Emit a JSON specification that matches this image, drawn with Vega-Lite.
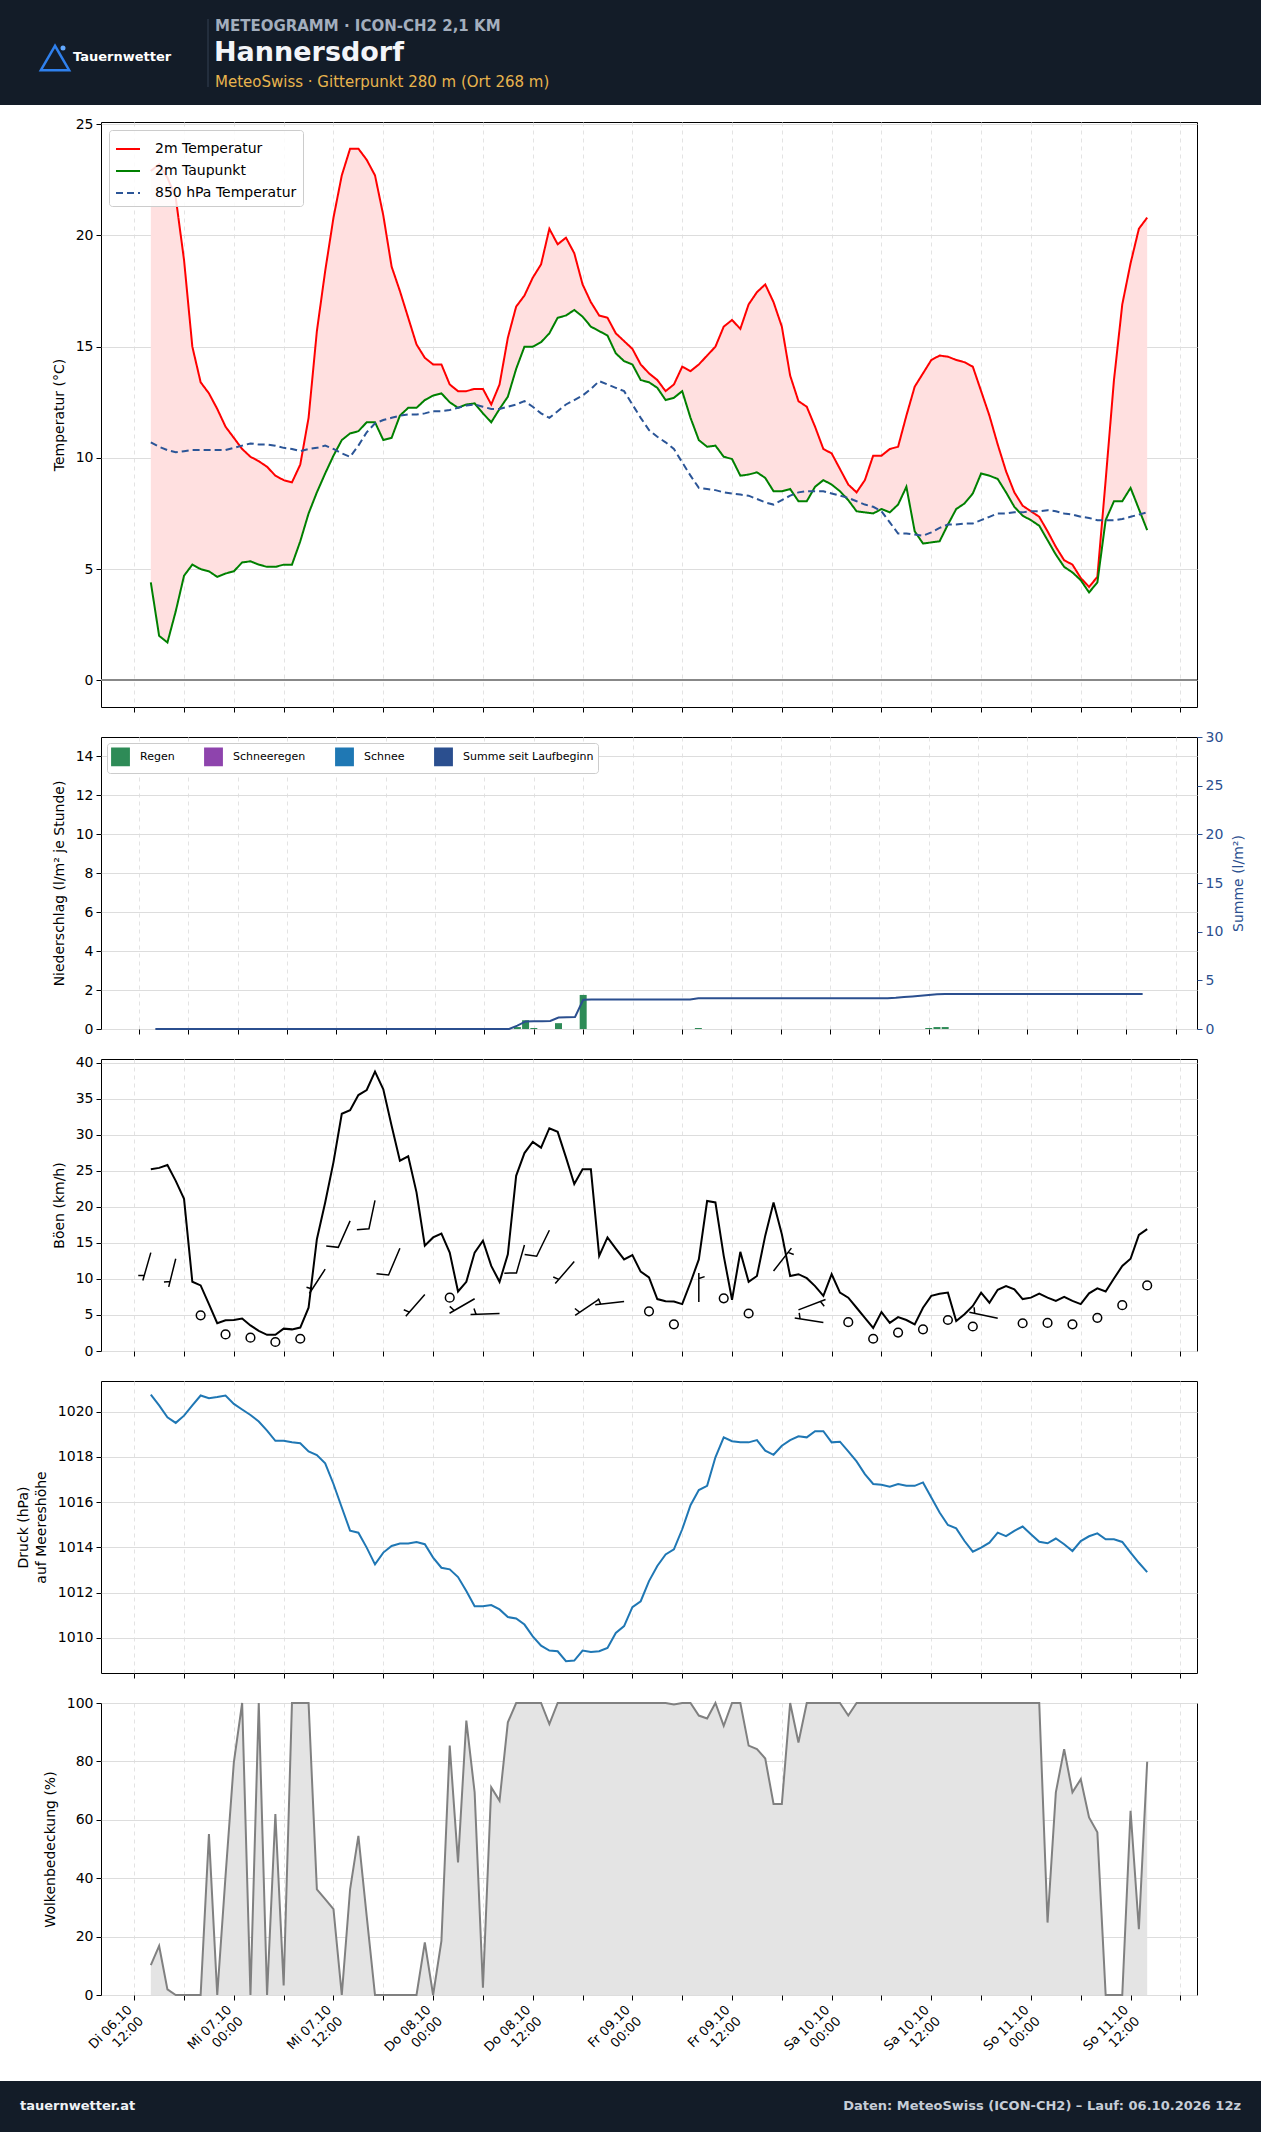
{
"$schema": "https://vega.github.io/schema/vega-lite/v6.json",
"padding": 0,
"background": "white",
"autosize": {"type": "pad"},
"config": {
  "font": "DejaVu Sans",
  "view": {"stroke": "black", "strokeWidth": 1},
  "axis": {"domain": false, "labelFont": "DejaVu Sans", "titleFont": "DejaVu Sans", "labelFontSize": 14, "titleFontSize": 14, "titleFontWeight": "normal", "labelColor": "black", "titleColor": "black", "tickColor": "black", "tickSize": 5, "labelPadding": 3, "gridColor": "#dddddd", "gridWidth": 1},
  "axisX": {"gridDash": [4, 4], "gridColor": "#e3e3e3", "labelFlush": false, "labelOverlap": false},
  "axisY": {"titlePadding": 9, "labelOverlap": false},
  "legend": {"labelFont": "DejaVu Sans"}
},
"resolve": {"scale": {"color": "independent", "strokeDash": "independent"}},
"datasets": {
"h": [
{"time":"2026-10-06T14:00","temp":22.9,"dew":4.4,"t850":10.7,"rain":0,"sum":0,"gust":25.2,"p":1020.75,"cloud":10.2},
{"time":"2026-10-06T15:00","temp":23.2,"dew":2.0,"t850":10.5,"rain":0,"sum":0,"gust":25.4,"p":1020.27,"cloud":16.8},
{"time":"2026-10-06T16:00","temp":22.6,"dew":1.7,"t850":10.35,"rain":0,"sum":0,"gust":25.8,"p":1019.75,"cloud":1.9},
{"time":"2026-10-06T17:00","temp":21.7,"dew":3.1,"t850":10.25,"rain":0,"sum":0,"gust":23.6,"p":1019.5,"cloud":0},
{"time":"2026-10-06T18:00","temp":18.9,"dew":4.7,"t850":10.3,"rain":0,"sum":0,"gust":21.1,"p":1019.82,"cloud":0},
{"time":"2026-10-06T19:00","temp":15.0,"dew":5.2,"t850":10.35,"rain":0,"sum":0,"gust":9.6,"p":1020.27,"cloud":0},
{"time":"2026-10-06T20:00","temp":13.4,"dew":5.0,"t850":10.35,"rain":0,"sum":0,"gust":9.1,"p":1020.71,"cloud":0},
{"time":"2026-10-06T21:00","temp":12.9,"dew":4.9,"t850":10.35,"rain":0,"sum":0,"gust":6.5,"p":1020.59,"cloud":55.1},
{"time":"2026-10-06T22:00","temp":12.2,"dew":4.65,"t850":10.35,"rain":0,"sum":0,"gust":3.85,"p":1020.64,"cloud":0},
{"time":"2026-10-06T23:00","temp":11.4,"dew":4.8,"t850":10.35,"rain":0,"sum":0,"gust":4.25,"p":1020.71,"cloud":40.8},
{"time":"2026-10-07T00:00","temp":10.9,"dew":4.9,"t850":10.45,"rain":0,"sum":0,"gust":4.3,"p":1020.34,"cloud":79.7},
{"time":"2026-10-07T01:00","temp":10.4,"dew":5.3,"t850":10.55,"rain":0,"sum":0,"gust":4.5,"p":1020.09,"cloud":100},
{"time":"2026-10-07T02:00","temp":10.05,"dew":5.35,"t850":10.65,"rain":0,"sum":0,"gust":3.55,"p":1019.85,"cloud":0},
{"time":"2026-10-07T03:00","temp":9.85,"dew":5.2,"t850":10.6,"rain":0,"sum":0,"gust":2.8,"p":1019.56,"cloud":100},
{"time":"2026-10-07T04:00","temp":9.6,"dew":5.1,"t850":10.6,"rain":0,"sum":0,"gust":2.25,"p":1019.16,"cloud":0},
{"time":"2026-10-07T05:00","temp":9.2,"dew":5.1,"t850":10.55,"rain":0,"sum":0,"gust":2.25,"p":1018.71,"cloud":62},
{"time":"2026-10-07T06:00","temp":9.0,"dew":5.2,"t850":10.45,"rain":0,"sum":0,"gust":3.1,"p":1018.71,"cloud":3.3},
{"time":"2026-10-07T07:00","temp":8.9,"dew":5.2,"t850":10.4,"rain":0,"sum":0,"gust":3.0,"p":1018.64,"cloud":100},
{"time":"2026-10-07T08:00","temp":9.7,"dew":6.25,"t850":10.3,"rain":0,"sum":0,"gust":3.25,"p":1018.6,"cloud":100},
{"time":"2026-10-07T09:00","temp":11.8,"dew":7.5,"t850":10.4,"rain":0,"sum":0,"gust":6.0,"p":1018.24,"cloud":100},
{"time":"2026-10-07T10:00","temp":15.7,"dew":8.45,"t850":10.45,"rain":0,"sum":0,"gust":15.5,"p":1018.08,"cloud":36.2},
{"time":"2026-10-07T11:00","temp":18.4,"dew":9.3,"t850":10.55,"rain":0,"sum":0,"gust":20.6,"p":1017.71,"cloud":32.8},
{"time":"2026-10-07T12:00","temp":20.8,"dew":10.1,"t850":10.4,"rain":0,"sum":0,"gust":26.2,"p":1016.8,"cloud":29.4},
{"time":"2026-10-07T13:00","temp":22.7,"dew":10.8,"t850":10.2,"rain":0,"sum":0,"gust":32.9,"p":1015.76,"cloud":0},
{"time":"2026-10-07T14:00","temp":23.9,"dew":11.1,"t850":10.05,"rain":0,"sum":0,"gust":33.4,"p":1014.74,"cloud":36.2},
{"time":"2026-10-07T15:00","temp":23.9,"dew":11.2,"t850":10.55,"rain":0,"sum":0,"gust":35.5,"p":1014.65,"cloud":54.5},
{"time":"2026-10-07T16:00","temp":23.4,"dew":11.6,"t850":11.15,"rain":0,"sum":0,"gust":36.2,"p":1013.99,"cloud":27},
{"time":"2026-10-07T17:00","temp":22.7,"dew":11.6,"t850":11.55,"rain":0,"sum":0,"gust":38.75,"p":1013.25,"cloud":0},
{"time":"2026-10-07T18:00","temp":20.9,"dew":10.8,"t850":11.7,"rain":0,"sum":0,"gust":36.3,"p":1013.77,"cloud":0},
{"time":"2026-10-07T19:00","temp":18.6,"dew":10.9,"t850":11.8,"rain":0,"sum":0,"gust":31.25,"p":1014.06,"cloud":0},
{"time":"2026-10-07T20:00","temp":17.5,"dew":11.9,"t850":11.9,"rain":0,"sum":0,"gust":26.4,"p":1014.17,"cloud":0},
{"time":"2026-10-07T21:00","temp":16.3,"dew":12.25,"t850":11.95,"rain":0,"sum":0,"gust":27.0,"p":1014.17,"cloud":0},
{"time":"2026-10-07T22:00","temp":15.1,"dew":12.25,"t850":11.95,"rain":0,"sum":0,"gust":22.0,"p":1014.24,"cloud":0},
{"time":"2026-10-07T23:00","temp":14.5,"dew":12.6,"t850":12.0,"rain":0,"sum":0,"gust":14.6,"p":1014.14,"cloud":18},
{"time":"2026-10-08T00:00","temp":14.2,"dew":12.8,"t850":12.1,"rain":0,"sum":0,"gust":15.75,"p":1013.55,"cloud":0},
{"time":"2026-10-08T01:00","temp":14.2,"dew":12.9,"t850":12.1,"rain":0,"sum":0,"gust":16.3,"p":1013.1,"cloud":18.5},
{"time":"2026-10-08T02:00","temp":13.3,"dew":12.5,"t850":12.15,"rain":0,"sum":0,"gust":13.65,"p":1013.03,"cloud":85.4},
{"time":"2026-10-08T03:00","temp":13.0,"dew":12.25,"t850":12.25,"rain":0,"sum":0,"gust":8.25,"p":1012.69,"cloud":45.4},
{"time":"2026-10-08T04:00","temp":13.0,"dew":12.4,"t850":12.35,"rain":0,"sum":0,"gust":9.6,"p":1012.07,"cloud":94},
{"time":"2026-10-08T05:00","temp":13.1,"dew":12.45,"t850":12.4,"rain":0,"sum":0,"gust":13.65,"p":1011.4,"cloud":69.4},
{"time":"2026-10-08T06:00","temp":13.1,"dew":12.0,"t850":12.3,"rain":0,"sum":0,"gust":15.3,"p":1011.4,"cloud":2.5},
{"time":"2026-10-08T07:00","temp":12.4,"dew":11.6,"t850":12.2,"rain":0,"sum":0,"gust":11.8,"p":1011.45,"cloud":71.1},
{"time":"2026-10-08T08:00","temp":13.3,"dew":12.2,"t850":12.2,"rain":0,"sum":0,"gust":9.6,"p":1011.26,"cloud":66.5},
{"time":"2026-10-08T09:00","temp":15.4,"dew":12.75,"t850":12.3,"rain":0,"sum":0,"gust":13.4,"p":1010.92,"cloud":93.4},
{"time":"2026-10-08T10:00","temp":16.8,"dew":14.0,"t850":12.4,"rain":0.1,"sum":0.35,"gust":24.3,"p":1010.86,"cloud":100},
{"time":"2026-10-08T11:00","temp":17.3,"dew":15.0,"t850":12.55,"rain":0.45,"sum":0.78,"gust":27.45,"p":1010.59,"cloud":100},
{"time":"2026-10-08T12:00","temp":18.1,"dew":15.0,"t850":12.3,"rain":0.05,"sum":0.8,"gust":29.0,"p":1010.07,"cloud":100},
{"time":"2026-10-08T13:00","temp":18.7,"dew":15.2,"t850":12.0,"rain":0,"sum":0.8,"gust":28.2,"p":1009.66,"cloud":100},
{"time":"2026-10-08T14:00","temp":20.3,"dew":15.6,"t850":11.8,"rain":0,"sum":0.82,"gust":30.9,"p":1009.44,"cloud":92.8},
{"time":"2026-10-08T15:00","temp":19.6,"dew":16.3,"t850":12.1,"rain":0.3,"sum":1.17,"gust":30.4,"p":1009.41,"cloud":100},
{"time":"2026-10-08T16:00","temp":19.9,"dew":16.4,"t850":12.4,"rain":0,"sum":1.2,"gust":26.85,"p":1008.97,"cloud":100},
{"time":"2026-10-08T17:00","temp":19.2,"dew":16.65,"t850":12.6,"rain":0,"sum":1.22,"gust":23.15,"p":1009.0,"cloud":100},
{"time":"2026-10-08T18:00","temp":17.8,"dew":16.35,"t850":12.8,"rain":1.75,"sum":3.0,"gust":25.2,"p":1009.44,"cloud":100},
{"time":"2026-10-08T19:00","temp":17.0,"dew":15.9,"t850":13.1,"rain":0,"sum":3.02,"gust":25.2,"p":1009.38,"cloud":100},
{"time":"2026-10-08T20:00","temp":16.4,"dew":15.7,"t850":13.45,"rain":0,"sum":3.02,"gust":13.2,"p":1009.41,"cloud":100},
{"time":"2026-10-08T21:00","temp":16.3,"dew":15.5,"t850":13.3,"rain":0,"sum":3.02,"gust":15.75,"p":1009.56,"cloud":100},
{"time":"2026-10-08T22:00","temp":15.6,"dew":14.7,"t850":13.15,"rain":0,"sum":3.02,"gust":14.2,"p":1010.22,"cloud":100},
{"time":"2026-10-08T23:00","temp":15.25,"dew":14.35,"t850":13.0,"rain":0,"sum":3.02,"gust":12.7,"p":1010.52,"cloud":100},
{"time":"2026-10-09T00:00","temp":14.9,"dew":14.2,"t850":12.4,"rain":0,"sum":3.02,"gust":13.3,"p":1011.36,"cloud":100},
{"time":"2026-10-09T01:00","temp":14.2,"dew":13.5,"t850":11.8,"rain":0,"sum":3.02,"gust":11.0,"p":1011.62,"cloud":100},
{"time":"2026-10-09T02:00","temp":13.8,"dew":13.4,"t850":11.25,"rain":0,"sum":3.02,"gust":10.2,"p":1012.51,"cloud":100},
{"time":"2026-10-09T03:00","temp":13.5,"dew":13.15,"t850":10.95,"rain":0,"sum":3.02,"gust":7.2,"p":1013.18,"cloud":100},
{"time":"2026-10-09T04:00","temp":13.0,"dew":12.6,"t850":10.7,"rain":0,"sum":3.02,"gust":6.9,"p":1013.69,"cloud":100},
{"time":"2026-10-09T05:00","temp":13.3,"dew":12.7,"t850":10.4,"rain":0,"sum":3.02,"gust":6.85,"p":1013.91,"cloud":99.5},
{"time":"2026-10-09T06:00","temp":14.1,"dew":13.0,"t850":9.8,"rain":0,"sum":3.02,"gust":6.5,"p":1014.8,"cloud":100},
{"time":"2026-10-09T07:00","temp":13.9,"dew":11.8,"t850":9.2,"rain":0,"sum":3.02,"gust":9.5,"p":1015.86,"cloud":100},
{"time":"2026-10-09T08:00","temp":14.2,"dew":10.8,"t850":8.65,"rain":0.05,"sum":3.16,"gust":12.7,"p":1016.53,"cloud":95.7},
{"time":"2026-10-09T09:00","temp":14.6,"dew":10.5,"t850":8.6,"rain":0,"sum":3.16,"gust":20.8,"p":1016.72,"cloud":94.7},
{"time":"2026-10-09T10:00","temp":15.0,"dew":10.55,"t850":8.55,"rain":0,"sum":3.16,"gust":20.6,"p":1017.98,"cloud":100},
{"time":"2026-10-09T11:00","temp":15.9,"dew":10.05,"t850":8.45,"rain":0,"sum":3.16,"gust":13.2,"p":1018.86,"cloud":92.2},
{"time":"2026-10-09T12:00","temp":16.2,"dew":9.95,"t850":8.4,"rain":0,"sum":3.16,"gust":7.1,"p":1018.69,"cloud":100},
{"time":"2026-10-09T13:00","temp":15.8,"dew":9.2,"t850":8.35,"rain":0,"sum":3.16,"gust":13.75,"p":1018.64,"cloud":100},
{"time":"2026-10-09T14:00","temp":16.9,"dew":9.25,"t850":8.3,"rain":0,"sum":3.16,"gust":9.6,"p":1018.64,"cloud":85.4},
{"time":"2026-10-09T15:00","temp":17.45,"dew":9.35,"t850":8.15,"rain":0,"sum":3.16,"gust":10.4,"p":1018.74,"cloud":84.2},
{"time":"2026-10-09T16:00","temp":17.8,"dew":9.1,"t850":8.0,"rain":0,"sum":3.16,"gust":16.0,"p":1018.27,"cloud":81},
{"time":"2026-10-09T17:00","temp":17.0,"dew":8.5,"t850":7.9,"rain":0,"sum":3.16,"gust":20.6,"p":1018.09,"cloud":65.4},
{"time":"2026-10-09T18:00","temp":15.9,"dew":8.5,"t850":8.1,"rain":0,"sum":3.16,"gust":16.2,"p":1018.49,"cloud":65.4},
{"time":"2026-10-09T19:00","temp":13.7,"dew":8.6,"t850":8.3,"rain":0,"sum":3.16,"gust":10.4,"p":1018.74,"cloud":100},
{"time":"2026-10-09T20:00","temp":12.55,"dew":8.05,"t850":8.45,"rain":0,"sum":3.16,"gust":10.65,"p":1018.91,"cloud":86.5},
{"time":"2026-10-09T21:00","temp":12.3,"dew":8.05,"t850":8.5,"rain":0,"sum":3.16,"gust":10.1,"p":1018.86,"cloud":100},
{"time":"2026-10-09T22:00","temp":11.4,"dew":8.7,"t850":8.5,"rain":0,"sum":3.16,"gust":9.0,"p":1019.13,"cloud":100},
{"time":"2026-10-09T23:00","temp":10.4,"dew":9.0,"t850":8.5,"rain":0,"sum":3.16,"gust":7.65,"p":1019.13,"cloud":100},
{"time":"2026-10-10T00:00","temp":10.2,"dew":8.8,"t850":8.4,"rain":0,"sum":3.16,"gust":10.65,"p":1018.64,"cloud":100},
{"time":"2026-10-10T01:00","temp":9.5,"dew":8.5,"t850":8.3,"rain":0,"sum":3.16,"gust":8.1,"p":1018.67,"cloud":100},
{"time":"2026-10-10T02:00","temp":8.8,"dew":8.1,"t850":8.2,"rain":0,"sum":3.16,"gust":7.4,"p":1018.24,"cloud":95.7},
{"time":"2026-10-10T03:00","temp":8.45,"dew":7.6,"t850":8.05,"rain":0,"sum":3.16,"gust":6.0,"p":1017.8,"cloud":100},
{"time":"2026-10-10T04:00","temp":9.0,"dew":7.55,"t850":7.9,"rain":0,"sum":3.16,"gust":4.6,"p":1017.24,"cloud":100},
{"time":"2026-10-10T05:00","temp":10.1,"dew":7.5,"t850":7.8,"rain":0,"sum":3.16,"gust":3.2,"p":1016.8,"cloud":100},
{"time":"2026-10-10T06:00","temp":10.1,"dew":7.7,"t850":7.6,"rain":0,"sum":3.16,"gust":5.4,"p":1016.77,"cloud":100},
{"time":"2026-10-10T07:00","temp":10.4,"dew":7.55,"t850":7.1,"rain":0,"sum":3.16,"gust":3.9,"p":1016.68,"cloud":100},
{"time":"2026-10-10T08:00","temp":10.5,"dew":7.9,"t850":6.6,"rain":0,"sum":3.2,"gust":4.7,"p":1016.8,"cloud":100},
{"time":"2026-10-10T09:00","temp":11.9,"dew":8.7,"t850":6.6,"rain":0,"sum":3.28,"gust":4.3,"p":1016.72,"cloud":100},
{"time":"2026-10-10T10:00","temp":13.2,"dew":6.7,"t850":6.55,"rain":0,"sum":3.35,"gust":3.7,"p":1016.72,"cloud":100},
{"time":"2026-10-10T11:00","temp":13.8,"dew":6.15,"t850":6.5,"rain":0,"sum":3.42,"gust":6.0,"p":1016.87,"cloud":100},
{"time":"2026-10-10T12:00","temp":14.4,"dew":6.2,"t850":6.65,"rain":0.05,"sum":3.5,"gust":7.65,"p":1016.2,"cloud":100},
{"time":"2026-10-10T13:00","temp":14.6,"dew":6.25,"t850":6.85,"rain":0.1,"sum":3.57,"gust":7.95,"p":1015.54,"cloud":100},
{"time":"2026-10-10T14:00","temp":14.55,"dew":7.0,"t850":7.0,"rain":0.1,"sum":3.6,"gust":8.1,"p":1014.99,"cloud":100},
{"time":"2026-10-10T15:00","temp":14.4,"dew":7.7,"t850":7.0,"rain":0,"sum":3.6,"gust":4.15,"p":1014.84,"cloud":100},
{"time":"2026-10-10T16:00","temp":14.3,"dew":7.95,"t850":7.05,"rain":0,"sum":3.6,"gust":5.1,"p":1014.28,"cloud":100},
{"time":"2026-10-10T17:00","temp":14.1,"dew":8.4,"t850":7.05,"rain":0,"sum":3.6,"gust":6.25,"p":1013.81,"cloud":100},
{"time":"2026-10-10T18:00","temp":13.0,"dew":9.3,"t850":7.2,"rain":0,"sum":3.6,"gust":8.1,"p":1013.99,"cloud":100},
{"time":"2026-10-10T19:00","temp":11.9,"dew":9.2,"t850":7.35,"rain":0,"sum":3.6,"gust":6.7,"p":1014.21,"cloud":100},
{"time":"2026-10-10T20:00","temp":10.6,"dew":9.05,"t850":7.5,"rain":0,"sum":3.6,"gust":8.5,"p":1014.65,"cloud":100},
{"time":"2026-10-10T21:00","temp":9.4,"dew":8.45,"t850":7.5,"rain":0,"sum":3.6,"gust":9.0,"p":1014.5,"cloud":100},
{"time":"2026-10-10T22:00","temp":8.45,"dew":7.8,"t850":7.55,"rain":0,"sum":3.6,"gust":8.55,"p":1014.73,"cloud":100},
{"time":"2026-10-10T23:00","temp":7.85,"dew":7.4,"t850":7.55,"rain":0,"sum":3.6,"gust":7.2,"p":1014.92,"cloud":100},
{"time":"2026-10-11T00:00","temp":7.6,"dew":7.2,"t850":7.6,"rain":0,"sum":3.6,"gust":7.4,"p":1014.58,"cloud":100},
{"time":"2026-10-11T01:00","temp":7.35,"dew":6.95,"t850":7.6,"rain":0,"sum":3.6,"gust":7.95,"p":1014.25,"cloud":100},
{"time":"2026-10-11T02:00","temp":6.7,"dew":6.3,"t850":7.65,"rain":0,"sum":3.6,"gust":7.4,"p":1014.18,"cloud":24.8},
{"time":"2026-10-11T03:00","temp":6.0,"dew":5.65,"t850":7.6,"rain":0,"sum":3.6,"gust":6.95,"p":1014.39,"cloud":69.4},
{"time":"2026-10-11T04:00","temp":5.4,"dew":5.1,"t850":7.5,"rain":0,"sum":3.6,"gust":7.5,"p":1014.14,"cloud":84.2},
{"time":"2026-10-11T05:00","temp":5.2,"dew":4.85,"t850":7.45,"rain":0,"sum":3.6,"gust":6.95,"p":1013.84,"cloud":69.4},
{"time":"2026-10-11T06:00","temp":4.6,"dew":4.5,"t850":7.35,"rain":0,"sum":3.6,"gust":6.5,"p":1014.28,"cloud":73.9},
{"time":"2026-10-11T07:00","temp":4.2,"dew":3.95,"t850":7.3,"rain":0,"sum":3.6,"gust":8.0,"p":1014.49,"cloud":60.8},
{"time":"2026-10-11T08:00","temp":4.65,"dew":4.4,"t850":7.2,"rain":0,"sum":3.6,"gust":8.7,"p":1014.62,"cloud":55.7},
{"time":"2026-10-11T09:00","temp":9.0,"dew":7.2,"t850":7.2,"rain":0,"sum":3.6,"gust":8.25,"p":1014.36,"cloud":0},
{"time":"2026-10-11T10:00","temp":13.5,"dew":8.05,"t850":7.2,"rain":0,"sum":3.6,"gust":10.05,"p":1014.36,"cloud":0},
{"time":"2026-10-11T11:00","temp":16.9,"dew":8.05,"t850":7.25,"rain":0,"sum":3.6,"gust":11.8,"p":1014.24,"cloud":0},
{"time":"2026-10-11T12:00","temp":18.75,"dew":8.65,"t850":7.35,"rain":0,"sum":3.6,"gust":12.8,"p":1013.77,"cloud":63.1},
{"time":"2026-10-11T13:00","temp":20.3,"dew":7.7,"t850":7.45,"rain":0,"sum":3.6,"gust":16.1,"p":1013.32,"cloud":22.5},
{"time":"2026-10-11T14:00","temp":20.8,"dew":6.75,"t850":7.55,"rain":0,"sum":3.6,"gust":16.9,"p":1012.91,"cloud":79.9}
],
"w": [
{"time":"2026-10-06T14:00","wind":13.65,"dir":196,"barb":"5kt"},
{"time":"2026-10-06T17:00","wind":12.8,"dir":194,"barb":"5kt"},
{"time":"2026-10-06T20:00","wind":4.95,"dir":0,"barb":"calm"},
{"time":"2026-10-06T23:00","wind":2.3,"dir":0,"barb":"calm"},
{"time":"2026-10-07T02:00","wind":1.85,"dir":0,"barb":"calm"},
{"time":"2026-10-07T05:00","wind":1.25,"dir":0,"barb":"calm"},
{"time":"2026-10-07T08:00","wind":1.7,"dir":0,"barb":"calm"},
{"time":"2026-10-07T11:00","wind":11.35,"dir":213,"barb":"5kt"},
{"time":"2026-10-07T14:00","wind":18.05,"dir":204,"barb":"10kt"},
{"time":"2026-10-07T17:00","wind":20.9,"dir":192,"barb":"10kt"},
{"time":"2026-10-07T20:00","wind":14.25,"dir":203,"barb":"10kt"},
{"time":"2026-10-07T23:00","wind":7.85,"dir":221,"barb":"5kt"},
{"time":"2026-10-08T02:00","wind":7.4,"dir":0,"barb":"calm"},
{"time":"2026-10-08T05:00","wind":7.25,"dir":240,"barb":"5kt"},
{"time":"2026-10-08T08:00","wind":5.2,"dir":268,"barb":"5kt"},
{"time":"2026-10-08T11:00","wind":14.7,"dir":196,"barb":"10kt"},
{"time":"2026-10-08T14:00","wind":16.75,"dir":206,"barb":"10kt"},
{"time":"2026-10-08T17:00","wind":12.4,"dir":221,"barb":"5kt"},
{"time":"2026-10-08T20:00","wind":7.2,"dir":236,"barb":"5kt"},
{"time":"2026-10-08T23:00","wind":6.85,"dir":264,"barb":"5kt"},
{"time":"2026-10-09T02:00","wind":5.5,"dir":0,"barb":"calm"},
{"time":"2026-10-09T05:00","wind":3.7,"dir":0,"barb":"calm"},
{"time":"2026-10-09T08:00","wind":6.8,"dir":0,"barb":"5kt"},
{"time":"2026-10-09T11:00","wind":7.3,"dir":0,"barb":"calm"},
{"time":"2026-10-09T14:00","wind":5.2,"dir":0,"barb":"calm"},
{"time":"2026-10-09T17:00","wind":11.1,"dir":38,"barb":"5kt"},
{"time":"2026-10-09T20:00","wind":5.7,"dir":69,"barb":"5kt"},
{"time":"2026-10-09T23:00","wind":3.95,"dir":279,"barb":"5kt"},
{"time":"2026-10-10T02:00","wind":4.0,"dir":0,"barb":"calm"},
{"time":"2026-10-10T05:00","wind":1.7,"dir":0,"barb":"calm"},
{"time":"2026-10-10T08:00","wind":2.55,"dir":0,"barb":"calm"},
{"time":"2026-10-10T11:00","wind":3.0,"dir":0,"barb":"calm"},
{"time":"2026-10-10T14:00","wind":4.3,"dir":0,"barb":"calm"},
{"time":"2026-10-10T17:00","wind":3.4,"dir":0,"barb":"calm"},
{"time":"2026-10-10T20:00","wind":4.55,"dir":282,"barb":"5kt"},
{"time":"2026-10-10T23:00","wind":3.85,"dir":0,"barb":"calm"},
{"time":"2026-10-11T02:00","wind":3.9,"dir":0,"barb":"calm"},
{"time":"2026-10-11T05:00","wind":3.7,"dir":0,"barb":"calm"},
{"time":"2026-10-11T08:00","wind":4.6,"dir":0,"barb":"calm"},
{"time":"2026-10-11T11:00","wind":6.35,"dir":0,"barb":"calm"},
{"time":"2026-10-11T14:00","wind":9.1,"dir":0,"barb":"calm"}
]
},
"spacing": 30,
"bounds": "flush",
"vconcat": [
{
  "width": 1096, "height": 92,
  "view": {"stroke": null},
  "data": {"values": [{"k": 1}]},
  "layer": [
    {"mark": {"type": "rect", "color": "#131c28"}, "encoding": {"x": {"value": -101}, "x2": {"value": 1160}, "y": {"value": 0}, "y2": {"value": 105}}},
    {"mark": {"type": "point", "shape": "triangle-up", "filled": false, "color": "#2f80ed", "strokeWidth": 2.5, "size": 800, "opacity": 1}, "encoding": {"x": {"value": -46}, "y": {"value": 58}}},
    {"mark": {"type": "circle", "color": "#63a9ff", "size": 25, "opacity": 1}, "encoding": {"x": {"value": -38}, "y": {"value": 48}}},
    {"mark": {"type": "text", "text": "Tauernwetter", "align": "left", "baseline": "middle", "fontSize": 13, "fontWeight": "bold", "color": "#ffffff", "font": "DejaVu Sans"}, "encoding": {"x": {"value": -28}, "y": {"value": 57}}},
    {"mark": {"type": "rule", "color": "#354152", "strokeWidth": 1}, "encoding": {"x": {"value": 107}, "y": {"value": 19}, "y2": {"value": 87}}},
    {"mark": {"type": "text", "text": "METEOGRAMM · ICON-CH2 2,1 KM", "align": "left", "baseline": "middle", "fontSize": 15, "fontWeight": "bold", "color": "#a3aebd", "font": "DejaVu Sans"}, "encoding": {"x": {"value": 114}, "y": {"value": 26}}},
    {"mark": {"type": "text", "text": "Hannersdorf", "align": "left", "baseline": "middle", "fontSize": 27, "fontWeight": "bold", "color": "#f3f5f9", "font": "DejaVu Sans"}, "encoding": {"x": {"value": 113}, "y": {"value": 53}}},
    {"mark": {"type": "text", "text": "MeteoSwiss · Gitterpunkt 280 m (Ort 268 m)", "align": "left", "baseline": "middle", "fontSize": 15, "color": "#e8b44e", "font": "DejaVu Sans"}, "encoding": {"x": {"value": 114}, "y": {"value": 82}}}
  ]
},
{
  "width": 1096, "height": 585,
  "data": {"name": "h"},
  "layer": [
    {"mark": {"type": "area", "color": "#ffe0e0", "opacity": 1},
     "encoding": {
       "x": {"field": "time", "type": "temporal", "title": null,
             "scale": {"domain": [{"year": 2026, "month": "oct", "date": 6, "hours": 8}, {"year": 2026, "month": "oct", "date": 11, "hours": 20}]},
             "axis": {"labels": false, "tickCount": 22, "grid": true}},
       "y": {"field": "temp", "type": "quantitative", "scale": {"domain": [-1.2, 25.1], "nice": false},
             "axis": {"title": "Temperatur (°C)", "values": [0, 5, 10, 15, 20, 25], "grid": true}},
       "y2": {"field": "dew"}
     }},
    {"mark": {"type": "rule", "color": "#888888", "strokeWidth": 1.2}, "encoding": {"y": {"datum": 0, "type": "quantitative"}}},
    {"transform": [{"fold": ["temp", "dew", "t850"], "as": ["series", "value"]}],
     "mark": {"type": "line", "strokeWidth": 2},
     "encoding": {
       "x": {"field": "time", "type": "temporal"},
       "y": {"field": "value", "type": "quantitative", "scale": {"domain": [-1.2, 25.1], "nice": false}},
       "color": {"field": "series", "type": "nominal",
         "scale": {"domain": ["temp", "dew", "t850"], "range": ["#ff0000", "#008000", "#2b5597"]},
         "legend": {"title": null, "orient": "top-left", "offset": 8, "padding": 6, "fillColor": "rgba(255,255,255,0.85)", "strokeColor": "#cccccc", "cornerRadius": 3, "labelFontSize": 14, "labelColor": "black", "symbolSize": 576, "symbolStrokeWidth": 2, "labelOffset": 14, "rowPadding": 2,
           "labelExpr": "datum.value == 'temp' ? '2m Temperatur' : datum.value == 'dew' ? '2m Taupunkt' : '850 hPa Temperatur'"}},
       "strokeDash": {"field": "series", "type": "nominal",
         "scale": {"domain": ["temp", "dew", "t850"], "range": [[1, 0], [1, 0], [7, 4]]},
         "legend": {"title": null, "orient": "top-left", "offset": 8, "padding": 6, "fillColor": "rgba(255,255,255,0.85)", "strokeColor": "#cccccc", "cornerRadius": 3, "labelFontSize": 14, "labelColor": "black", "symbolSize": 576, "symbolStrokeWidth": 2, "labelOffset": 14, "rowPadding": 2,
           "labelExpr": "datum.value == 'temp' ? '2m Temperatur' : datum.value == 'dew' ? '2m Taupunkt' : '850 hPa Temperatur'"}}
     }}
  ]
},
{
  "width": 1096, "height": 292,
  "data": {"name": "h"},
  "layer": [
    {"transform": [{"filter": "datum.rain > 0"}],
     "mark": {"type": "bar", "size": 7},
     "encoding": {
       "x": {"field": "time", "type": "temporal", "title": null,
             "scale": {"domain": [{"year": 2026, "month": "oct", "date": 6, "hours": 8}, {"year": 2026, "month": "oct", "date": 11, "hours": 20}]},
             "axis": {"labels": false, "tickCount": 22, "grid": true}},
       "y": {"field": "rain", "type": "quantitative", "scale": {"domain": [0, 15], "nice": false},
             "axis": {"title": "Niederschlag (l/m² je Stunde)", "values": [0, 2, 4, 6, 8, 10, 12, 14], "grid": true}},
       "color": {"datum": "Regen", "type": "nominal",
         "scale": {"domain": ["Regen", "Schneeregen", "Schnee", "Summe seit Laufbeginn"], "range": ["#2e8b57", "#8e44ad", "#1f78b4", "#2b4f8f"]},
         "legend": {"title": null, "orient": "top-left", "direction": "horizontal", "offset": 6, "padding": 4, "fillColor": "white", "strokeColor": "#cccccc", "cornerRadius": 3, "labelFontSize": 11, "labelColor": "black", "symbolSize": 300, "symbolType": "square", "labelOffset": 10, "columnPadding": 26}}
     }},
    {"mark": {"type": "line", "strokeWidth": 2},
     "encoding": {
       "x": {"field": "time", "type": "temporal"},
       "y": {"field": "sum", "type": "quantitative", "scale": {"domain": [0, 30], "nice": false},
             "axis": {"orient": "right", "title": "Summe (l/m²)", "titleAngle": 270, "titleBaseline": "top", "values": [0, 5, 10, 15, 20, 25, 30], "grid": false, "labelColor": "#2b4f8f", "titleColor": "#2b4f8f", "tickColor": "#2b4f8f"}},
       "color": {"datum": "Summe seit Laufbeginn", "type": "nominal"}
     }}
  ],
  "resolve": {"scale": {"y": "independent"}}
},
{
  "width": 1096, "height": 292,
  "layer": [
    {"data": {"name": "h"},
     "mark": {"type": "line", "color": "black", "strokeWidth": 2},
     "encoding": {
       "x": {"field": "time", "type": "temporal", "title": null,
             "scale": {"domain": [{"year": 2026, "month": "oct", "date": 6, "hours": 8}, {"year": 2026, "month": "oct", "date": 11, "hours": 20}]},
             "axis": {"labels": false, "tickCount": 22, "grid": true}},
       "y": {"field": "gust", "type": "quantitative", "scale": {"domain": [0, 40.5], "nice": false},
             "axis": {"title": "Böen (km/h)", "values": [0, 5, 10, 15, 20, 25, 30, 35, 40], "grid": true, "labelOverlap": false}}
     }},
    {"data": {"name": "w"},
     "mark": {"type": "point", "filled": false, "color": "black", "strokeWidth": 1.5, "opacity": 1, "size": 3364},
     "encoding": {
       "x": {"field": "time", "type": "temporal"},
       "y": {"field": "wind", "type": "quantitative", "scale": {"domain": [0, 40.5], "nice": false},
             "axis": {"title": "Böen (km/h)", "values": [0, 5, 10, 15, 20, 25, 30, 35, 40], "grid": true, "labelOverlap": false}},
       "shape": {"field": "barb", "type": "nominal", "legend": null,
         "scale": {"domain": ["calm", "5kt", "10kt"], "range": ["M0.15,0A0.15,0.15 0 1 1 -0.15,0A0.15,0.15 0 1 1 0.15,0Z", "M0,0L0,-1M0,-0.8125L0.2,-0.875", "M0,0L0,-1L0.4,-1.125"]}},
       "angle": {"field": "dir", "type": "quantitative", "scale": null}
     }}
  ]
},
{
  "width": 1096, "height": 292,
  "data": {"name": "h"},
  "mark": {"type": "line", "color": "#1f77b4", "strokeWidth": 2},
  "encoding": {
    "x": {"field": "time", "type": "temporal", "title": null,
          "scale": {"domain": [{"year": 2026, "month": "oct", "date": 6, "hours": 8}, {"year": 2026, "month": "oct", "date": 11, "hours": 20}]},
          "axis": {"labels": false, "tickCount": 22, "grid": true}},
    "y": {"field": "p", "type": "quantitative", "scale": {"domain": [1008.45, 1021.35], "nice": false, "zero": false},
          "axis": {"title": ["Druck (hPa)", "auf Meereshöhe"], "titleLineHeight": 18, "format": "d", "values": [1010, 1012, 1014, 1016, 1018, 1020], "grid": true}}
  }
},
{
  "width": 1096, "height": 292,
  "data": {"name": "h"},
  "layer": [
    {"mark": {"type": "area", "color": "#e4e4e4", "opacity": 1},
     "encoding": {
       "x": {"field": "time", "type": "temporal", "title": null,
             "scale": {"domain": [{"year": 2026, "month": "oct", "date": 6, "hours": 8}, {"year": 2026, "month": "oct", "date": 11, "hours": 20}]},
             "axis": {"tickCount": 22, "grid": true, "labelAngle": -45, "labelAlign": "right", "labelBaseline": "top", "labelFontSize": 13, "labelLineHeight": 16, "labelOffset": -9,
                      "labelExpr": "hours(datum.value) % 12 == 0 ? [(day(datum.value) == 0 ? 'So' : day(datum.value) == 1 ? 'Mo' : day(datum.value) == 2 ? 'Di' : day(datum.value) == 3 ? 'Mi' : day(datum.value) == 4 ? 'Do' : day(datum.value) == 5 ? 'Fr' : 'Sa') + ' ' + timeFormat(datum.value, '%d.%m'), timeFormat(datum.value, '%H:%M')] : ''"}},
       "y": {"field": "cloud", "type": "quantitative", "scale": {"domain": [0, 100], "nice": false},
             "axis": {"title": "Wolkenbedeckung (%)", "values": [0, 20, 40, 60, 80, 100], "grid": true}}
     }},
    {"mark": {"type": "line", "color": "#808080", "strokeWidth": 2},
     "encoding": {
       "x": {"field": "time", "type": "temporal"},
       "y": {"field": "cloud", "type": "quantitative", "scale": {"domain": [0, 100], "nice": false}}
     }}
  ]
},
{
  "width": 1096, "height": 107,
  "view": {"stroke": null},
  "data": {"values": [{"k": 1}]},
  "layer": [
    {"mark": {"type": "rect", "color": "#131c28"}, "encoding": {"x": {"value": -101}, "x2": {"value": 1160}, "y": {"value": 56}, "y2": {"value": 107}}},
    {"mark": {"type": "text", "text": "tauernwetter.at", "align": "left", "baseline": "middle", "fontSize": 13, "fontWeight": "bold", "color": "#eef1f5", "font": "DejaVu Sans"}, "encoding": {"x": {"value": -81}, "y": {"value": 81}}},
    {"mark": {"type": "text", "text": "Daten: MeteoSwiss (ICON-CH2) – Lauf: 06.10.2026 12z", "align": "right", "baseline": "middle", "fontSize": 13, "fontWeight": "bold", "color": "#c6cdd7", "font": "DejaVu Sans"}, "encoding": {"x": {"value": 1140}, "y": {"value": 81}}}
  ]
}
]
}
